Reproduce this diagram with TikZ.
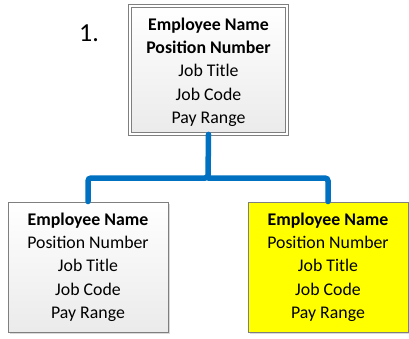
\documentclass[tikz,border=0pt]{standalone}
\usepackage{fontspec}
\setmainfont{Carlito}
\usetikzlibrary{shadows}
\definecolor{conn}{HTML}{0070C0}
\definecolor{boxline}{HTML}{7F7F7F}
\definecolor{hl}{HTML}{FFFF00}
\tikzset{
  card/.style={draw=boxline, line width=1pt, minimum width=160pt, minimum height=130pt,
    align=center, font=\fontsize{17.8}{23.3}\selectfont, inner sep=0pt,
    drop shadow={shadow xshift=2pt, shadow yshift=-2pt, fill=black!25, opacity=0.6}},
  greycard/.style={card, top color=white, bottom color=black!8},
  topcard/.style={greycard, double=white, double distance=2pt, line width=0.8pt},
  yellowcard/.style={card, fill=hl},
  connector/.style={draw=conn, line width=5.5pt, rounded corners=3pt, line cap=round}
}
\begin{document}
\begin{tikzpicture}[x=1pt,y=-1pt]
\useasboundingbox (0,0) rectangle (409,338);
\node[topcard, minimum width=157pt, minimum height=128pt] (top) at (208.5,70) {};
\node[align=center, font=\fontsize{17.8}{23.3}\selectfont, inner sep=0pt] (toptext) at (208.5,72)
  {\textbf{Employee Name}\\ \textbf{Position Number}\\ Job Title\\ Job Code\\ Pay Range};
\node[greycard] (left) at (88,267)
  {\textbf{Employee Name}\\ Position Number\\ Job Title\\ Job Code\\ Pay Range};
\node[yellowcard] (right) at (328,267)
  {\textbf{Employee Name}\\ Position Number\\ Job Title\\ Job Code\\ Pay Range};
\node[font=\fontsize{26}{28}\selectfont, anchor=center] (num) at (89,33) {1.};
\coordinate (mid) at (208,178);
\draw[connector] (top.south) -- (mid) -| (left.north);
\draw[connector] (mid) -| (right.north);
\end{tikzpicture}
\end{document}
